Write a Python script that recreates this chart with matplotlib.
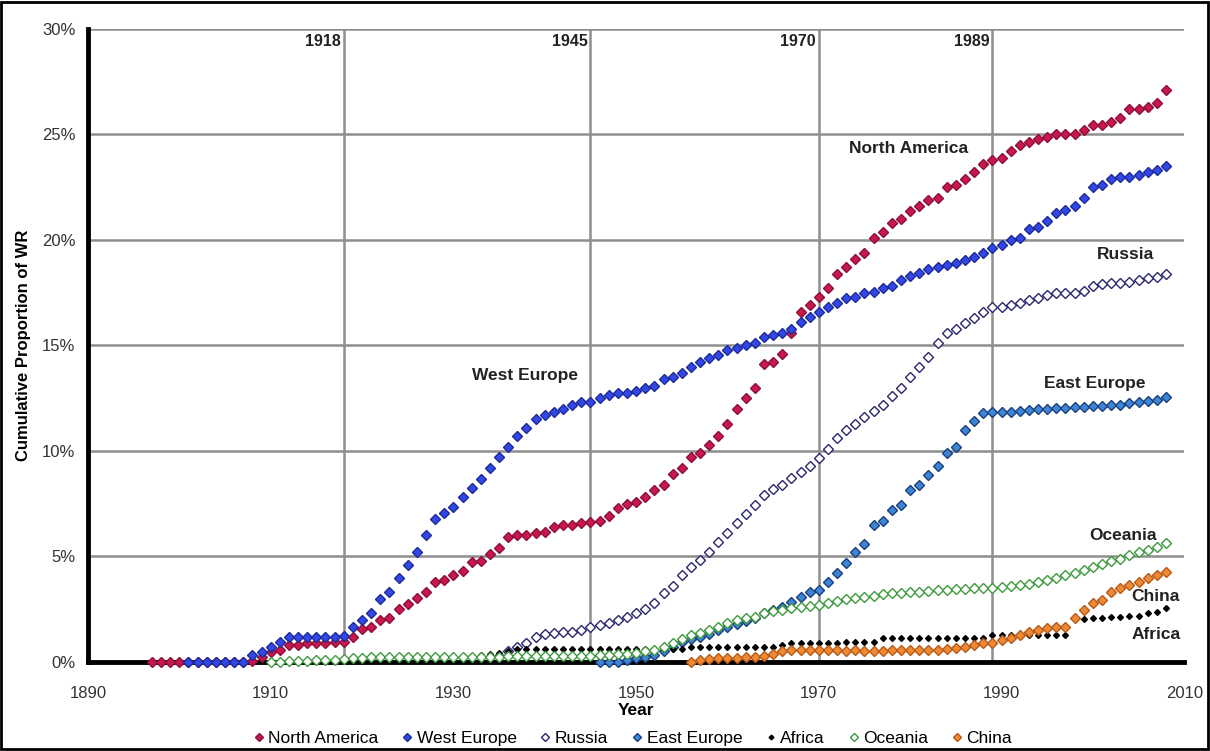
import matplotlib
matplotlib.use("Agg")
import matplotlib.pyplot as plt
from matplotlib.patches import Rectangle
from matplotlib.ticker import FuncFormatter

plt.rcParams['font.family'] = ['Liberation Sans', 'DejaVu Sans']

# Cumulative proportion of world records (%) by region, one value per year
na_years = list(range(1897, 2009))
north_america = [
    0, 0, 0,                                                    # 1897-1899
    0, 0, 0, 0, 0, 0, 0, 0, 0.05, 0.24,                        # 1900s
    0.47, 0.57, 0.8, 0.8, 0.9, 0.9, 0.9, 0.95, 0.95, 1.2,      # 1910s
    1.55, 1.66, 2.0, 2.1, 2.5, 2.75, 3.05, 3.3, 3.8, 3.9,      # 1920s
    4.1, 4.3, 4.75, 4.8, 5.1, 5.4, 5.9, 6.0, 6.0, 6.1,         # 1930s
    6.15, 6.4, 6.5, 6.5, 6.6, 6.65, 6.7, 6.9, 7.3, 7.5,        # 1940s
    7.6, 7.8, 8.15, 8.4, 8.9, 9.2, 9.7, 9.9, 10.3, 10.7,       # 1950s
    11.3, 12.0, 12.5, 13.0, 14.1, 14.2, 14.6, 15.6, 16.6, 16.9,  # 1960s
    17.3, 17.7, 18.4, 18.7, 19.1, 19.4, 20.1, 20.4, 20.8, 21.0,  # 1970s
    21.35, 21.6, 21.9, 22.0, 22.5, 22.6, 22.9, 23.2, 23.6, 23.8,  # 1980s
    23.9, 24.2, 24.5, 24.65, 24.8, 24.9, 25.0, 25.0, 25.0, 25.2,  # 1990s
    25.45, 25.45, 25.6, 25.8, 26.2, 26.2, 26.3, 26.5, 27.1,      # 2000s
]

we_years = list(range(1901, 2009))
west_europe = [
    0, 0, 0, 0, 0, 0, 0, 0.33, 0.47,                           # 1901-1909
    0.7, 0.95, 1.2, 1.2, 1.2, 1.2, 1.2, 1.2, 1.25, 1.66,       # 1910s
    2.0, 2.3, 3.0, 3.3, 4.0, 4.6, 5.2, 6.0, 6.8, 7.05,         # 1920s
    7.35, 7.8, 8.25, 8.65, 9.2, 9.7, 10.2, 10.7, 11.1, 11.5,   # 1930s
    11.7, 11.85, 12.0, 12.2, 12.3, 12.3, 12.5, 12.65, 12.75, 12.75,  # 1940s
    12.85, 13.0, 13.1, 13.4, 13.5, 13.7, 14.0, 14.2, 14.4, 14.55,    # 1950s
    14.8, 14.9, 15.0, 15.1, 15.4, 15.5, 15.6, 15.8, 16.1, 16.35,     # 1960s
    16.6, 16.8, 17.0, 17.25, 17.3, 17.5, 17.55, 17.7, 17.8, 18.1,    # 1970s
    18.3, 18.45, 18.6, 18.7, 18.8, 18.9, 19.05, 19.2, 19.4, 19.6,    # 1980s
    19.75, 20.0, 20.1, 20.5, 20.6, 20.9, 21.3, 21.4, 21.6, 22.0,     # 1990s
    22.5, 22.6, 22.9, 23.0, 23.0, 23.1, 23.2, 23.3, 23.5,            # 2000s
]

ru_years = list(range(1935, 2009))
russia = [
    0.3, 0.5, 0.7, 0.9, 1.2,                                   # 1935-1939
    1.35, 1.37, 1.4, 1.42, 1.5, 1.65, 1.75, 1.85, 2.0, 2.15,   # 1940s
    2.3, 2.5, 2.8, 3.25, 3.6, 4.1, 4.5, 4.85, 5.2, 5.7,        # 1950s
    6.1, 6.6, 7.0, 7.45, 7.9, 8.2, 8.4, 8.7, 9.0, 9.3,         # 1960s
    9.65, 10.1, 10.6, 11.0, 11.3, 11.6, 11.9, 12.2, 12.6, 13.0,  # 1970s
    13.5, 14.0, 14.45, 15.1, 15.6, 15.8, 16.05, 16.3, 16.6, 16.8,  # 1980s
    16.8, 16.9, 17.0, 17.15, 17.25, 17.4, 17.5, 17.5, 17.5, 17.6,  # 1990s
    17.8, 17.9, 17.95, 17.95, 18.0, 18.1, 18.2, 18.25, 18.4,       # 2000s
]

ee_years = list(range(1946, 2009))
east_europe = [
    0.0, 0.0, 0.0, 0.1,                                        # 1946-1949
    0.2, 0.25, 0.33, 0.5, 0.7, 0.95, 1.1, 1.2, 1.35, 1.5,      # 1950s
    1.65, 1.8, 1.95, 2.1, 2.3, 2.45, 2.6, 2.85, 3.1, 3.3,      # 1960s
    3.4, 3.8, 4.2, 4.7, 5.2, 5.6, 6.5, 6.7, 7.2, 7.45,         # 1970s
    8.15, 8.4, 8.85, 9.3, 9.9, 10.2, 11.0, 11.4, 11.8, 11.85,  # 1980s
    11.85, 11.85, 11.9, 11.95, 12.0, 12.0, 12.05, 12.05, 12.1, 12.1,  # 1990s
    12.15, 12.15, 12.2, 12.2, 12.25, 12.3, 12.35, 12.4, 12.55,        # 2000s
]

af_years = list(range(1911, 2009))
africa = [
    0.05, 0.05, 0.1, 0.1, 0.1, 0.1, 0.15, 0.2, 0.2,            # 1911-1919
    0.2, 0.25, 0.25, 0.3, 0.3, 0.3, 0.3, 0.3, 0.3, 0.3,        # 1920s
    0.3, 0.3, 0.3, 0.35, 0.4, 0.45, 0.5, 0.6, 0.6, 0.6,        # 1930s
    0.6, 0.6, 0.6, 0.6, 0.6, 0.6, 0.6, 0.6, 0.6, 0.6,          # 1940s
    0.6, 0.6, 0.6, 0.6, 0.6, 0.6, 0.7, 0.7, 0.7, 0.7,          # 1950s
    0.7, 0.7, 0.7, 0.7, 0.7, 0.7, 0.8, 0.9, 0.9, 0.9,          # 1960s
    0.9, 0.9, 0.9, 0.95, 0.95, 0.95, 0.95, 1.15, 1.15, 1.15,   # 1970s
    1.15, 1.15, 1.15, 1.15, 1.15, 1.15, 1.15, 1.15, 1.15, 1.3,  # 1980s
    1.3, 1.3, 1.3, 1.3, 1.3, 1.3, 1.3, 1.3, 2.05, 2.05,        # 1990s
    2.1, 2.1, 2.15, 2.15, 2.2, 2.2, 2.3, 2.35, 2.55,           # 2000s
]

oc_years = list(range(1910, 2009))
oceania = [
    0.0, 0.0, 0.05, 0.05, 0.05, 0.1, 0.1, 0.1, 0.15, 0.2,      # 1910s
    0.2, 0.25, 0.25, 0.25, 0.25, 0.25, 0.25, 0.25, 0.25, 0.25,  # 1920s
    0.25, 0.25, 0.25, 0.25, 0.25, 0.25, 0.3, 0.3, 0.3, 0.3,    # 1930s
    0.3, 0.3, 0.3, 0.3, 0.3, 0.3, 0.35, 0.35, 0.4, 0.4,        # 1940s
    0.45, 0.5, 0.55, 0.7, 0.9, 1.1, 1.3, 1.37, 1.5, 1.65,      # 1950s
    1.85, 2.0, 2.1, 2.15, 2.3, 2.4, 2.45, 2.55, 2.6, 2.65,     # 1960s
    2.7, 2.8, 2.9, 3.0, 3.05, 3.1, 3.15, 3.2, 3.25, 3.25,      # 1970s
    3.3, 3.3, 3.35, 3.4, 3.4, 3.45, 3.45, 3.5, 3.5, 3.5,       # 1980s
    3.55, 3.6, 3.65, 3.7, 3.8, 3.9, 4.0, 4.1, 4.2, 4.35,       # 1990s
    4.5, 4.65, 4.8, 4.9, 5.05, 5.2, 5.3, 5.45, 5.65,           # 2000s
]

cn_years = list(range(1956, 2009))
china = [
    0.0, 0.1, 0.15, 0.2,                                       # 1956-1959
    0.2, 0.2, 0.25, 0.25, 0.3, 0.4, 0.5, 0.55, 0.55, 0.55,     # 1960s
    0.55, 0.55, 0.55, 0.5, 0.55, 0.5, 0.5, 0.5, 0.55, 0.55,    # 1970s
    0.55, 0.57, 0.57, 0.57, 0.6, 0.65, 0.7, 0.8, 0.9, 0.9,     # 1980s
    1.05, 1.13, 1.3, 1.4, 1.5, 1.6, 1.65, 1.65, 2.1, 2.45,     # 1990s
    2.8, 2.95, 3.3, 3.5, 3.65, 3.8, 4.0, 4.1, 4.27,            # 2000s
]

event_years = [1918, 1945, 1970, 1989]

fig = plt.figure(figsize=(12.1, 7.51), dpi=100)
ax = fig.add_axes([0.0727, 0.1185, 0.906, 0.8430])

series = [
    ("North America", na_years, north_america, "#C8174F", "#8E1038", 4.6),
    ("West Europe", we_years, west_europe, "#3347E6", "#1E2C9A", 4.6),
    ("Russia", ru_years, russia, "white", "#2A2670", 4.6),
    ("East Europe", ee_years, east_europe, "#3D86D6", "#1B3F7C", 4.6),
    ("Africa", af_years, africa, "black", "black", 3.0),
    ("Oceania", oc_years, oceania, "white", "#3C9A3C", 4.6),
    ("China", cn_years, china, "#EE8A35", "#B85A16", 4.6),
]
for name, xs, ys, face, edge, ms in series:
    ax.plot(xs, ys, linestyle="none", marker="D", markersize=ms,
            markerfacecolor=face, markeredgecolor=edge, markeredgewidth=1.0,
            label=name, zorder=4, clip_on=False)

ax.set_xlim(1890, 2010)
ax.set_ylim(0, 30)
ax.set_xticks(range(1890, 2011, 20))
ax.set_yticks(range(0, 31, 5))
ax.yaxis.set_major_formatter(FuncFormatter(lambda v, p: f"{int(v)}%"))
ax.tick_params(length=0, labelsize=12, colors="#333333")
ax.tick_params(axis="x", pad=17)
ax.tick_params(axis="y", pad=9)

for y in range(5, 31, 5):
    ax.axhline(y, color="#8f8f8f", lw=1.8, zorder=1)
for yr in event_years:
    ax.axvline(yr, color="#8f8f8f", lw=1.8, zorder=1)
    ax.text(yr - 0.3, 29.75, str(yr), ha="right", va="top",
            fontsize=11.5, fontweight="bold", color="#222222")

for side in ["top", "right"]:
    ax.spines[side].set_visible(False)
for side in ["left", "bottom"]:
    ax.spines[side].set_linewidth(3.5)
    ax.spines[side].set_color("black")
    ax.spines[side].set_zorder(3)

label_kw = dict(fontsize=12.5, fontweight="bold", color="#222222", va="center", ha="left")
ax.text(1973.3, 24.35, "North America", **label_kw)
ax.text(1932.0, 13.6, "West Europe", **label_kw)
ax.text(2000.4, 19.3, "Russia", **label_kw)
ax.text(1994.6, 13.2, "East Europe", **label_kw)
ax.text(1999.6, 6.0, "Oceania", **label_kw)
ax.text(2004.2, 3.1, "China", **label_kw)
ax.text(2004.2, 1.3, "Africa", **label_kw)

ax.set_xlabel("Year", fontsize=12.5, fontweight="bold", labelpad=2)
ax.set_ylabel("Cumulative Proportion of WR", fontsize=12, fontweight="bold", labelpad=8)

fig.legend(loc="lower center", bbox_to_anchor=(0.523, -0.014), ncol=7, frameon=False,
           fontsize=12.5, handlelength=0.6, handletextpad=0.25, columnspacing=1.35,
           markerscale=0.8)

fig.patches.append(Rectangle((0.001, 0.002), 0.997, 0.996, transform=fig.transFigure,
                             fill=False, edgecolor="black", linewidth=2))

fig.savefig("out.png", dpi=100)
